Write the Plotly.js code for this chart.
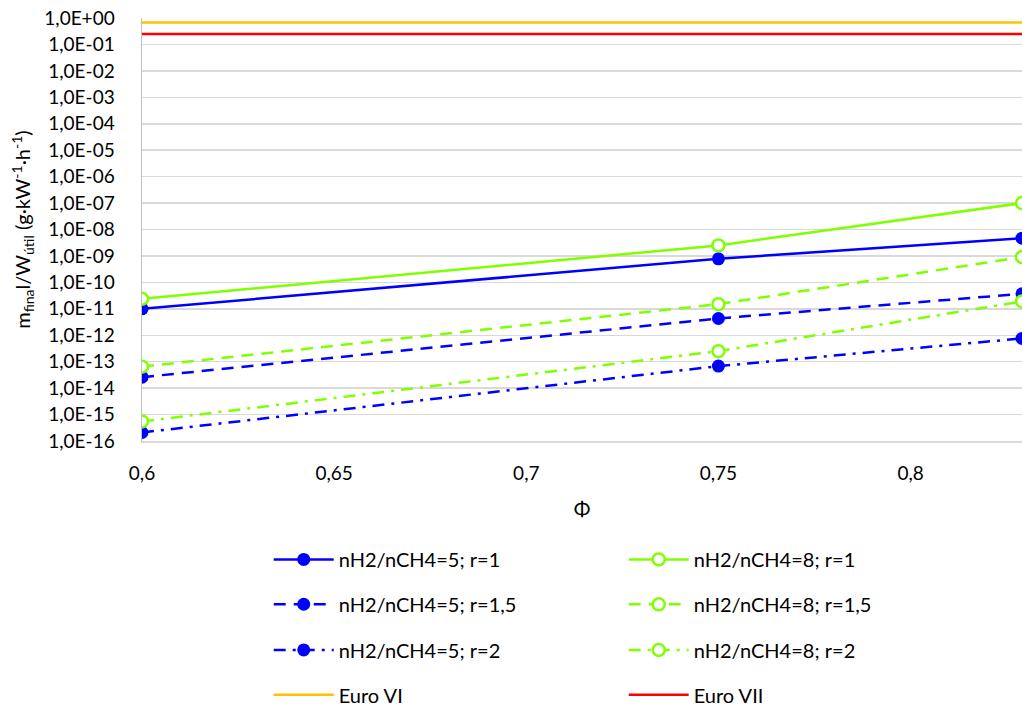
<!DOCTYPE html>
<html>
<head>
<meta charset="utf-8">
<script src="https://cdn.plot.ly/plotly-3.0.1.min.js"></script>
<style>
  html, body { margin: 0; padding: 0; background: #ffffff; }
  #chart { width: 1022px; height: 715px; }
</style>
</head>
<body>
<div id="chart"></div>
<script>
// Equivalence ratio values
const phi = [0.6, 0.75, 0.829];

// Specific mass emitted (g·kW-1·h-1), nH2/nCH4 = 5
const h5_r1   = [1.0e-11, 7.8e-10, 4.7e-9];
const h5_r15  = [2.6e-14, 4.3e-12, 3.7e-11];
const h5_r2   = [2.1e-16, 6.8e-14, 7.6e-13];

// Specific mass emitted (g·kW-1·h-1), nH2/nCH4 = 8
const h8_r1   = [2.4e-11, 2.5e-9, 1.0e-7];
const h8_r15  = [6.5e-14, 1.5e-11, 9.1e-10];
const h8_r2   = [5.5e-16, 2.5e-13, 1.9e-11];

// Regulatory limits
const euroVI  = 0.68;
const euroVII = 0.25;

// Axis ticks
const xTickVals = [0.6, 0.65, 0.7, 0.75, 0.8];
const yTickVals = [1e0, 1e-1, 1e-2, 1e-3, 1e-4, 1e-5, 1e-6, 1e-7, 1e-8,
                   1e-9, 1e-10, 1e-11, 1e-12, 1e-13, 1e-14, 1e-15, 1e-16];
const yTickText = ['1,0E+00', '1,0E-01', '1,0E-02', '1,0E-03', '1,0E-04', '1,0E-05',
                   '1,0E-06', '1,0E-07', '1,0E-08', '1,0E-09', '1,0E-10', '1,0E-11',
                   '1,0E-12', '1,0E-13', '1,0E-14', '1,0E-15', '1,0E-16'];

const BLUE = '#0000FF';
const GREEN = '#7FFF00';
const FONT = 'Lato, "Open Sans", sans-serif';

const blueMarker = { symbol: 'circle', size: 13, color: BLUE, line: { width: 0 } };
const greenMarker = { symbol: 'circle', size: 12, color: '#FFFFFF', line: { width: 2.5, color: GREEN } };

function series(name, y, color, dash, marker, legend) {
  return {
    type: 'scatter', mode: 'lines+markers', name: name,
    x: phi, y: y,
    line: { color: color, width: 2.5, dash: dash },
    marker: marker,
    legend: legend,
    cliponaxis: true
  };
}

const DASH = '12px,8px';
const DASHDOT = '12px,7px,3px,7px';

const traces = [
  series('nH2/nCH4=5; r=1', h5_r1, BLUE, 'solid', blueMarker, 'legend'),
  series('nH2/nCH4=8; r=1', h8_r1, GREEN, 'solid', greenMarker, 'legend'),
  series('nH2/nCH4=5; r=1,5', h5_r15, BLUE, DASH, blueMarker, 'legend2'),
  series('nH2/nCH4=8; r=1,5', h8_r15, GREEN, DASH, greenMarker, 'legend2'),
  series('nH2/nCH4=5; r=2', h5_r2, BLUE, DASHDOT, blueMarker, 'legend3'),
  series('nH2/nCH4=8; r=2', h8_r2, GREEN, DASHDOT, greenMarker, 'legend3'),
  {
    type: 'scatter', mode: 'lines', name: 'Euro VI',
    x: [phi[0], phi[phi.length - 1]], y: [euroVI, euroVI],
    line: { color: '#FFC000', width: 2.5 }, legend: 'legend4'
  },
  {
    type: 'scatter', mode: 'lines', name: 'Euro VII',
    x: [phi[0], phi[phi.length - 1]], y: [euroVII, euroVII],
    line: { color: '#FF0000', width: 2.5 }, legend: 'legend4'
  }
];

function legendRow(y) {
  return {
    orientation: 'h', x: 0.144, xanchor: 'left', y: y, yanchor: 'middle',
    entrywidth: 280, entrywidthmode: 'pixels', itemwidth: 60,
    font: { family: FONT, size: 20, color: '#000000' },
    bgcolor: 'rgba(0,0,0,0)', traceorder: 'normal'
  };
}

const layout = {
  width: 1022, height: 715,
  margin: { l: 142, r: 0, t: 18, b: 272 },
  paper_bgcolor: '#ffffff', plot_bgcolor: '#ffffff',
  separators: ',.',
  font: { family: FONT, size: 19, color: '#000000' },
  showlegend: true,
  xaxis: {
    range: [0.6, 0.829],
    tickvals: xTickVals,
    tickformat: '.2~f',
    showgrid: false, zeroline: false,
    showline: true, linecolor: '#D9D9D9', linewidth: 1.5,
    ticks: '', ticklabelstandoff: 15,
    tickfont: { family: FONT, size: 19 },
    title: { text: 'Φ', font: { family: FONT, size: 20 }, standoff: 18 }
  },
  yaxis: {
    type: 'log',
    range: [-16, 0],
    tickvals: yTickVals, ticktext: yTickText,
    showgrid: true, gridcolor: '#D9D9D9', gridwidth: 1.5,
    zeroline: false,
    showline: true, linecolor: '#BFBFBF', linewidth: 1.5,
    ticks: '', ticklabelstandoff: 22,
    tickfont: { family: FONT, size: 19 },
    title: {
      text: 'm<sub>fina</sub>l/W<sub>útil</sub> (g·kW<sup>-1</sup>·h<sup>-1</sup>)',
      font: { family: FONT, size: 20 }, standoff: 8
    }
  },
  legend: legendRow(-0.28),
  legend2: legendRow(-0.386),
  legend3: legendRow(-0.494),
  legend4: legendRow(-0.6)
};

Plotly.newPlot('chart', traces, layout, { displayModeBar: false, staticPlot: true });
</script>
</body>
</html>
